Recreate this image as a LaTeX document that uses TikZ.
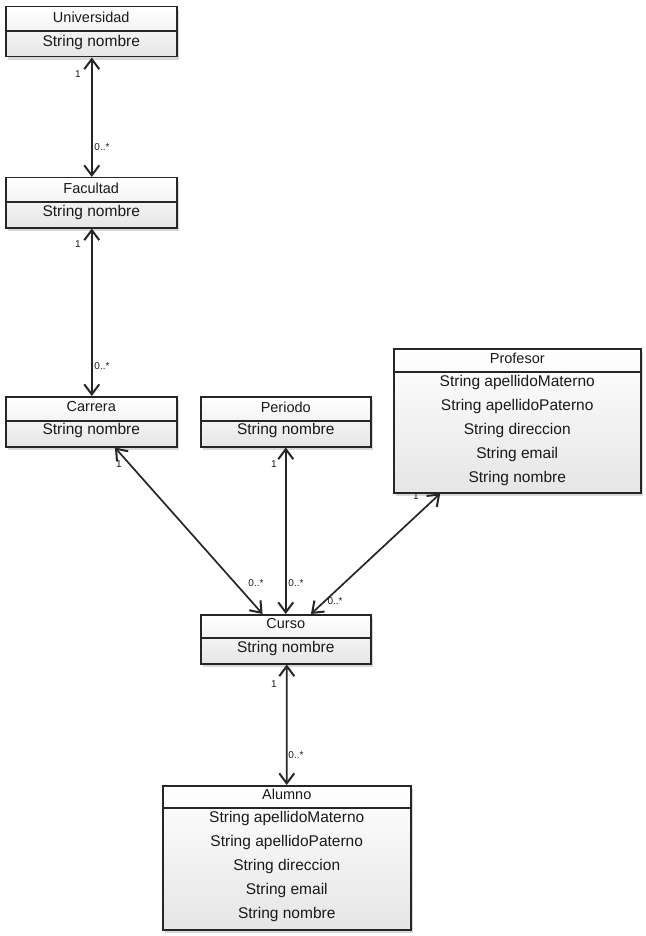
\documentclass[tikz,border=0pt]{standalone}
\usepackage{fontspec}
\setmainfont{Liberation Sans}
\usetikzlibrary{arrows.meta,shadows,calc}
\tikzset{
  cls/.style={draw=black!85, line width=1.5pt, top color=white, bottom color=black!10,
    drop shadow={shadow xshift=2pt, shadow yshift=-3pt, fill=black!30, opacity=0.5},
    rectangle, inner sep=0pt, anchor=north west},
  divline/.style={draw=black!85, line width=1.3pt},
  ttl/.style={font=\fontsize{14.5}{16}\selectfont, inner sep=0pt, text=black!90},
  attr/.style={font=\fontsize{15.5}{17}\selectfont, inner sep=0pt, text=black!90},
  assoc/.style={draw=black!85, line width=1.7pt, {Straight Barb[length=10pt,width=15pt,line width=2pt]}-{Straight Barb[length=10pt,width=15pt,line width=2pt]}},
  mult/.style={font=\fontsize{10}{11}\selectfont, inner sep=0pt, text=black!90}
}
\begin{document}
\begin{tikzpicture}[x=1pt,y=-1pt]
\useasboundingbox (0,0) rectangle (645,936);
% Universidad
\node[cls, minimum width=171pt, minimum height=50pt] (univ) at (5,6) {};
\draw[divline] ($(univ.north west)+(0,25)$) -- ($(univ.north east)+(0,25)$);
\node[ttl] (univt) at ($(univ.north)+(0,11)$) {Universidad};
\node[attr] (univa) at ($(univ.north)+(0,36)$) {String nombre};
% Facultad
\node[cls, minimum width=171pt, minimum height=50pt] (fac) at (5,177) {};
\draw[divline] ($(fac.north west)+(0,25)$) -- ($(fac.north east)+(0,25)$);
\node[ttl] (fact) at ($(fac.north)+(0,11)$) {Facultad};
\node[attr] (faca) at ($(fac.north)+(0,35)$) {String nombre};
% Carrera
\node[cls, minimum width=171pt, minimum height=50pt] (car) at (5,396) {};
\draw[divline] ($(car.north west)+(0,25)$) -- ($(car.north east)+(0,25)$);
\node[ttl] (cart) at ($(car.north)+(0,11)$) {Carrera};
\node[attr] (cara) at ($(car.north)+(0,34)$) {String nombre};
% Periodo
\node[cls, minimum width=170pt, minimum height=50pt] (per) at (200,396) {};
\draw[divline] ($(per.north west)+(0,25)$) -- ($(per.north east)+(0,25)$);
\node[ttl] (pert) at ($(per.north)+(0,11)$) {Periodo};
\node[attr] (pera) at ($(per.north)+(0,34)$) {String nombre};
% Profesor
\node[cls, minimum width=247pt, minimum height=144pt] (prof) at (393,348) {};
\draw[divline] ($(prof.north west)+(0,24)$) -- ($(prof.north east)+(0,24)$);
\node[ttl] (proft) at ($(prof.north)+(0,10)$) {Profesor};
\node[attr] (profa1) at ($(prof.north)+(0,34)$) {String apellidoMaterno};
\node[attr] (profa2) at ($(prof.north)+(0,58)$) {String apellidoPaterno};
\node[attr] (profa3) at ($(prof.north)+(0,82)$) {String direccion};
\node[attr] (profa4) at ($(prof.north)+(0,106)$) {String email};
\node[attr] (profa5) at ($(prof.north)+(0,130)$) {String nombre};
% Curso
\node[cls, minimum width=170pt, minimum height=49pt] (cur) at (200,614) {};
\draw[divline] ($(cur.north west)+(0,24)$) -- ($(cur.north east)+(0,24)$);
\node[ttl] (curt) at ($(cur.north)+(0,10)$) {Curso};
\node[attr] (cura) at ($(cur.north)+(0,34)$) {String nombre};
% Alumno
\node[cls, minimum width=248pt, minimum height=144pt] (alu) at (162,785) {};
\draw[divline] ($(alu.north west)+(0,23)$) -- ($(alu.north east)+(0,23)$);
\node[ttl] (alut) at ($(alu.north)+(0,9)$) {Alumno};
\node[attr] (alua1) at ($(alu.north)+(0,33)$) {String apellidoMaterno};
\node[attr] (alua2) at ($(alu.north)+(0,57)$) {String apellidoPaterno};
\node[attr] (alua3) at ($(alu.north)+(0,81)$) {String direccion};
\node[attr] (alua4) at ($(alu.north)+(0,105)$) {String email};
\node[attr] (alua5) at ($(alu.north)+(0,129)$) {String nombre};
% associations
\draw[assoc] ($(univ.south west)!0.503!(univ.south east)$) -- ($(fac.north west)!0.503!(fac.north east)$);
\draw[assoc] ($(fac.south west)!0.503!(fac.south east)$) -- ($(car.north west)!0.503!(car.north east)$);
\draw[assoc] ($(car.south west)!0.637!(car.south east)$) -- ($(cur.north west)!0.365!(cur.north east)$);
\draw[assoc] ($(per.south west)!0.5!(per.south east)$) -- ($(cur.north west)!0.5!(cur.north east)$);
\draw[assoc] ($(prof.south west)!0.19!(prof.south east)$) -- ($(cur.north west)!0.647!(cur.north east)$);
\draw[assoc] ($(cur.south west)!0.506!(cur.south east)$) -- ($(alu.north west)!0.5!(alu.north east)$);
% multiplicities
\node[mult] (m1) at (78,74) {1};
\node[mult] (m2) at (102,147) {0..*};
\node[mult] (m3) at (78,244) {1};
\node[mult] (m4) at (102,366) {0..*};
\node[mult] (m5) at (119,464) {1};
\node[mult] (m6) at (256,583) {0..*};
\node[mult] (m7) at (274,464) {1};
\node[mult] (m8) at (296,583) {0..*};
\node[mult] (m9) at (416,496) {1};
\node[mult] (m10) at (335,601) {0..*};
\node[mult] (m11) at (274,684) {1};
\node[mult] (m12) at (296,755) {0..*};
\end{tikzpicture}
\end{document}
